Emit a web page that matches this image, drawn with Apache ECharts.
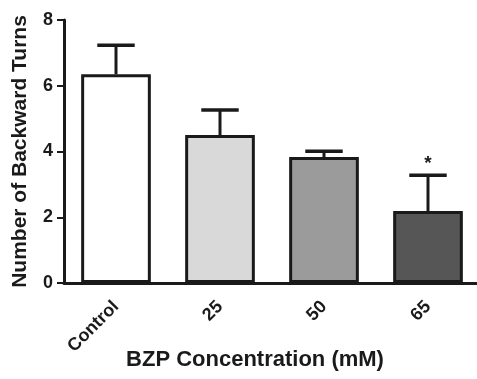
<!DOCTYPE html>
<html>
<head>
<meta charset="utf-8">
<script src="https://cdn.jsdelivr.net/npm/echarts@6/dist/echarts.min.js"></script>
<style>
  html, body { margin: 0; padding: 0; background: #fff; }
  #chart { width: 477px; height: 379px; }
</style>
</head>
<body>
<div id="chart"></div>
<script>
// values
const categories = ['Control', '25', '50', '65']
const means = [6.35, 4.5, 3.83, 2.19]
const upperErr = [7.23, 5.26, 4.01, 3.28]
const marks = ['', '', '', '*']
const barColors = ['#ffffff', '#d9d9d9', '#9a9b9a', '#565656']

const ink = '#1a1a1a'
const font = 'Liberation Sans, Arial, sans-serif'

let myChart = echarts.init(document.getElementById('chart'))

let errData = categories.map((c, i) => [i, means[i], upperErr[i], marks[i]])

let option = {
    animation: false,
    grid: {
        left: 64,
        right: -3,
        top: 20,
        bottom: 96,
        containLabel: false,
        outerBoundsMode: 'none'
    },
    xAxis: {
        type: 'category',
        data: categories,
        name: 'BZP Concentration (mM)',
        nameLocation: 'middle',
        nameGap: 66,
        nameMoveOverlap: false,
        nameTextStyle: {
            fontFamily: font,
            fontWeight: 'bold',
            fontSize: 22,
            color: ink,
            padding: [0, 34, 0, 0]
        },
        axisLine: { lineStyle: { color: ink, width: 3 } },
        axisTick: { alignWithLabel: true, length: 8, lineStyle: { color: ink, width: 2 } },
        axisLabel: {
            rotate: 45,
            margin: 21,
            fontFamily: font,
            fontWeight: 'bold',
            fontSize: 18,
            color: ink
        }
    },
    yAxis: {
        type: 'value',
        min: 0,
        max: 8,
        interval: 2,
        name: 'Number of Backward Turns',
        nameLocation: 'middle',
        nameGap: 33,
        nameTextStyle: {
            fontFamily: font,
            fontWeight: 'bold',
            fontSize: 21,
            color: ink
        },
        splitLine: { show: false },
        axisLine: { show: true, lineStyle: { color: ink, width: 3 } },
        axisTick: { show: true, length: 7, lineStyle: { color: ink, width: 2 } },
        axisLabel: {
            margin: 11,
            fontFamily: font,
            fontWeight: 'bold',
            fontSize: 18,
            color: ink
        }
    },
    series: [
        {
            type: 'bar',
            barWidth: '67%',
            data: means.map((v, i) => ({
                value: v,
                itemStyle: { color: barColors[i] }
            })),
            itemStyle: { borderColor: ink, borderWidth: 3 },
            z: 2
        },
        {
            type: 'custom',
            data: errData,
            z: 3,
            renderItem: (params, api) => {
                let base = api.coord([api.value(0), api.value(1)])
                let top = api.coord([api.value(0), api.value(2)])
                let capHalf = api.size([1, 0])[0] * 0.18
                let style = { stroke: ink, lineWidth: 3 }
                let children = [
                    { type: 'line', shape: { x1: base[0], y1: base[1], x2: top[0], y2: top[1] }, style },
                    { type: 'line', shape: { x1: top[0] - capHalf, y1: top[1], x2: top[0] + capHalf, y2: top[1] }, style: { stroke: ink, lineWidth: 3.5 } }
                ]
                let mark = errData[params.dataIndex][3]
                if (mark) {
                    children.push({
                        type: 'text',
                        style: {
                            x: top[0], y: top[1] - 2,
                            text: mark,
                            align: 'center',
                            verticalAlign: 'bottom',
                            font: 'bold 19px ' + font,
                            fill: ink
                        }
                    })
                }
                return { type: 'group', children }
            }
        }
    ]
}
myChart.setOption(option)
</script>
</body>
</html>
